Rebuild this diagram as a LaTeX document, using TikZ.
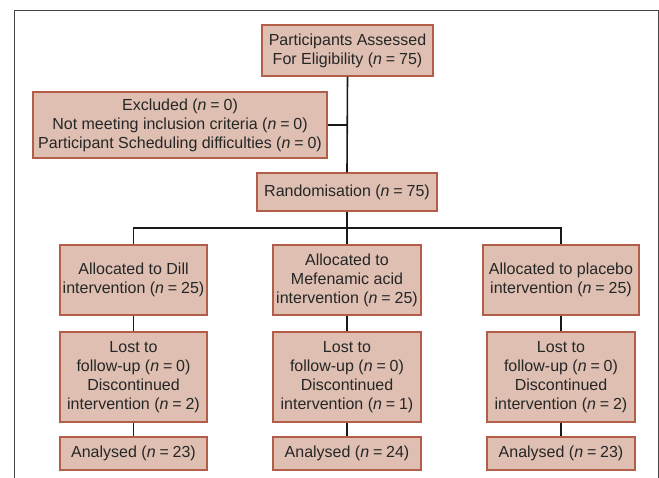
\documentclass[tikz,border=0pt]{standalone}
\usepackage{fontspec}
\setmainfont{Liberation Sans}
\definecolor{boxfill}{RGB}{222,191,178}
\definecolor{boxdraw}{RGB}{178,94,72}
\definecolor{framegray}{RGB}{70,70,70}
\newcommand{\nn}[1]{(\textit{n}\hspace{0.24em}=\hspace{0.24em}#1)}
\begin{document}
\begin{tikzpicture}[x=1pt,y=-1pt,
  box/.style={draw=boxdraw,fill=boxfill,line width=1.2pt,align=center,inner sep=0pt,
    font=\fontsize{16}{19}\selectfont,text=black!85},
  link/.style={line width=1.6pt,draw=black!90}]
\useasboundingbox (0,0) rectangle (659,478);
\draw[framegray,line width=1pt] (14,478) -- (14,11) -- (658,11) -- (658,478);
\node[box,minimum width=171pt,minimum height=51pt] (top) at (347.5,50.5) {Participants Assessed\\For Eligibility \nn{75}};
\node[box,minimum width=294pt,minimum height=66pt] (excl) at (180,125) {Excluded \nn{0}\\Not meeting inclusion criteria \nn{0}\\Participant Scheduling difficulties \nn{0}};
\node[box,minimum width=180pt,minimum height=38pt] (rand) at (347,192) {Randomisation \nn{75}};
\node[box,minimum width=147pt,minimum height=70pt] (a1) at (133.5,280) {Allocated to Dill\\intervention \nn{25}};
\node[box,minimum width=148pt,minimum height=70pt] (a2) at (347,280) {Allocated to\\Mefenamic acid\\intervention \nn{25}};
\node[box,minimum width=156pt,minimum height=70pt] (a3) at (561,280) {Allocated to placebo\\intervention \nn{25}};
\node[box,minimum width=147pt,minimum height=90pt] (l1) at (133.5,377) {Lost to\\follow-up \nn{0}\\Discontinued\\intervention \nn{2}};
\node[box,minimum width=148pt,minimum height=90pt] (l2) at (347,377) {Lost to\\follow-up \nn{0}\\Discontinued\\intervention \nn{1}};
\node[box,minimum width=148pt,minimum height=90pt] (l3) at (561,377) {Lost to\\follow-up \nn{0}\\Discontinued\\intervention \nn{2}};
\node[box,minimum width=147pt,minimum height=33pt] (n1) at (133.5,453.5) {Analysed \nn{23}};
\node[box,minimum width=148pt,minimum height=33pt] (n2) at (347,453.5) {Analysed \nn{24}};
\node[box,minimum width=148pt,minimum height=33pt] (n3) at (561,453.5) {Analysed \nn{23}};
\coordinate (br) at (347,228);
\draw[link] (top.south) -- (rand.north);
\draw[link] (excl.east) -- (excl.east -| top.south);
\draw[link] (rand.south) -- (br);
\draw[link] (a1.north) -- (a1.north |- br) -- (a3.north |- br) -- (a3.north);
\draw[link] (br) -- (a2.north);
\draw[link] (a1) -- (l1); \draw[link] (l1) -- (n1);
\draw[link] (a2) -- (l2); \draw[link] (l2) -- (n2);
\draw[link] (a3) -- (l3); \draw[link] (l3) -- (n3);
\end{tikzpicture}
\end{document}
